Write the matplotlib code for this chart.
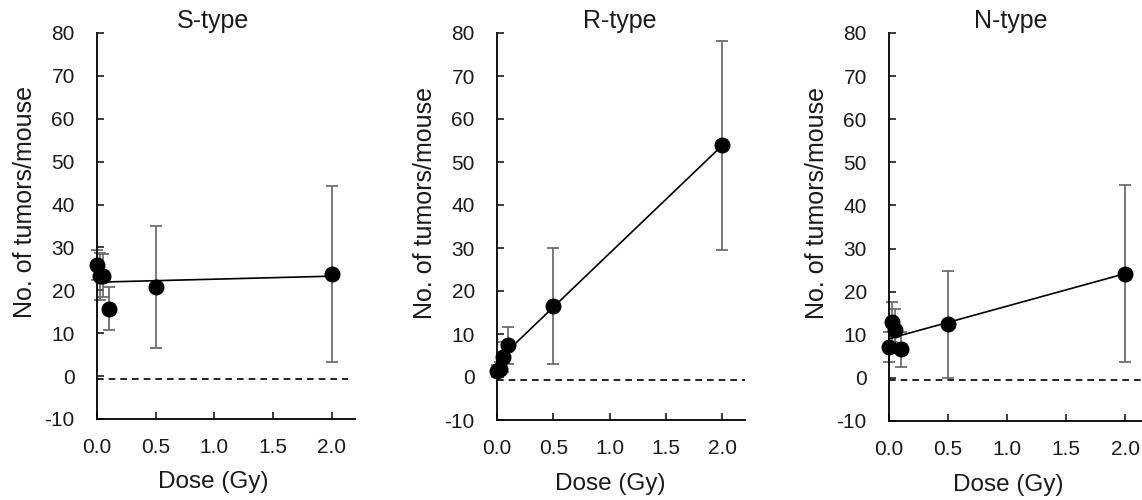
import numpy as np
import matplotlib
matplotlib.use('Agg')
import matplotlib.pyplot as plt

plt.rcParams['font.family'] = ['Liberation Sans', 'DejaVu Sans']
plt.rcParams['axes.unicode_minus'] = False

# dose groups (Gy)
doses = [0.0, 0.025, 0.05, 0.1, 0.5, 2.0]

# tumours per mouse, mean and SD
s_mean = [25.8, 23.3, 23.4, 15.7, 20.7, 23.8]
s_sd = [3.5, 5.5, 5.0, 5.0, 14.2, 20.5]
r_mean = [1.4, 1.9, 4.7, 7.4, 16.5, 53.9]
r_sd = [1.3, 1.5, 3.5, 4.3, 13.4, 24.3]
n_mean = [7.2, 12.9, 11.2, 6.6, 12.4, 24.2]
n_sd = [3.5, 4.6, 4.8, 4.0, 12.4, 20.6]

# linear fits: intercept, slope
fit_intercept = [21.9, 3.7, 9.1]
fit_slope = [0.7, 25.1, 7.55]

titles = ['S-type', 'R-type', 'N-type']
means = [s_mean, r_mean, n_mean]
sds = [s_sd, r_sd, n_sd]

W, H = 1142, 500
fig = plt.figure(figsize=(W/100, H/100), dpi=100)

# axes boxes in pixels: left, right, top, bottom
boxes = [(97, 355, 33, 419), (497, 745, 33, 420), (889, 1149, 33, 421)]
title_x = [0.45, 0.496, 0.47]
xlabel_x = [0.45, 0.456, 0.458]
dash_end = [2.14, 2.2, 2.2]

grey = '#6e6e6e'
ink = '#1a1a1a'

for i in range(3):
    l, r, t, b = boxes[i]
    ax = fig.add_axes([l/W, (H-b)/H, (r-l)/W, (b-t)/H])
    ax.set_xlim(0, 2.2)
    ax.set_ylim(-10, 80)

    ax.plot([0, dash_end[i]], [-0.6, -0.6], ls=(0, (4, 3)), color='black', lw=1.2, zorder=1)
    ax.errorbar(doses, means[i], yerr=sds[i], fmt='none', ecolor=grey,
                elinewidth=1.3, capsize=4.5, capthick=1.3, zorder=2, clip_on=False)
    xf = np.array([0, 2.0])
    ax.plot(xf, fit_intercept[i] + fit_slope[i]*xf, color='black', lw=1.2, zorder=3)
    ax.plot(doses, means[i], 'o', color='black', ms=10.5, zorder=4, clip_on=False)

    for side in ['top', 'right']:
        ax.spines[side].set_visible(False)
    for side in ['left', 'bottom']:
        ax.spines[side].set_linewidth(1.3)
    ax.set_xticks([0, 0.5, 1.0, 1.5, 2.0])
    ax.set_xticklabels(['0.0', '0.5', '1.0', '1.5', '2.0'])
    ax.set_yticks(range(-10, 81, 10))
    ax.tick_params(direction='in', length=5, width=1.2, labelsize=15,
                   colors=ink)
    ax.tick_params(axis='y', pad=16)
    ax.tick_params(axis='x', pad=14)

    ax.set_title(titles[i], fontsize=18, x=title_x[i], pad=-2, color=ink)
    ax.set_ylabel('No. of tumors/mouse', fontsize=18, color=ink)
    ax.yaxis.set_label_coords(-60/(r-l), 0.562)
    ax.set_xlabel('Dose (Gy)', fontsize=17.5, color=ink)
    ax.xaxis.set_label_coords(xlabel_x[i], -0.136)

fig.savefig('out.png', dpi=100)
